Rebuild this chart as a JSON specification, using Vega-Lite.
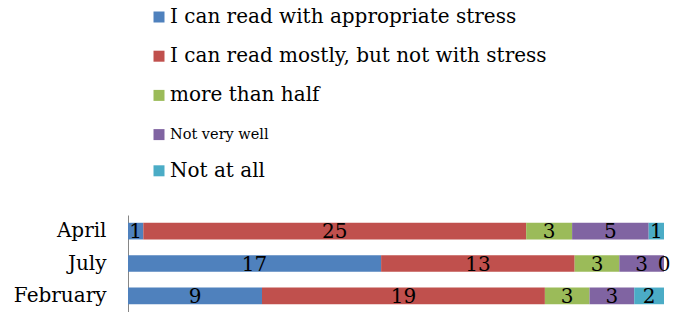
{
  "$schema": "https://vega.github.io/schema/vega-lite/v6.json",
  "width": 536,
  "height": 97,
  "autosize": {"type": "none"},
  "padding": {"left": 128, "top": 215, "right": 19, "bottom": 0},
  "background": "white",
  "config": {"view": {"stroke": null}, "font": "DejaVu Serif"},
  "data": {
    "values": [
      {"month": "April", "k": 1, "answer": "I can read with appropriate stress", "n": 1},
      {"month": "April", "k": 2, "answer": "I can read mostly, but not with stress", "n": 25},
      {"month": "April", "k": 3, "answer": "more than half", "n": 3},
      {"month": "April", "k": 4, "answer": "Not very well", "n": 5},
      {"month": "April", "k": 5, "answer": "Not at all", "n": 1},
      {"month": "July", "k": 1, "answer": "I can read with appropriate stress", "n": 17},
      {"month": "July", "k": 2, "answer": "I can read mostly, but not with stress", "n": 13},
      {"month": "July", "k": 3, "answer": "more than half", "n": 3},
      {"month": "July", "k": 4, "answer": "Not very well", "n": 3},
      {"month": "July", "k": 5, "answer": "Not at all", "n": 0},
      {"month": "February", "k": 1, "answer": "I can read with appropriate stress", "n": 9},
      {"month": "February", "k": 2, "answer": "I can read mostly, but not with stress", "n": 19},
      {"month": "February", "k": 3, "answer": "more than half", "n": 3},
      {"month": "February", "k": 4, "answer": "Not very well", "n": 3},
      {"month": "February", "k": 5, "answer": "Not at all", "n": 2}
    ]
  },
  "transform": [
    {"stack": "n", "groupby": ["month"], "sort": [{"field": "k", "order": "ascending"}], "offset": "normalize", "as": ["s0", "s1"]},
    {"calculate": "(datum.s0 + datum.s1) / 2", "as": "mid"}
  ],
  "encoding": {
    "y": {
      "field": "month",
      "type": "nominal",
      "sort": ["April", "July", "February"],
      "scale": {"paddingInner": 0.485, "paddingOuter": 0.24},
      "axis": {
        "title": null,
        "ticks": false,
        "domain": true,
        "domainColor": "#868686",
        "domainWidth": 1,
        "labelFontSize": 20,
        "labelColor": "#000000",
        "labelPadding": 22,
        "labelFont": "DejaVu Serif"
      }
    }
  },
  "layer": [
    {
      "mark": {"type": "bar"},
      "encoding": {
        "x": {"field": "s0", "type": "quantitative", "scale": {"domain": [0, 1], "nice": false, "zero": true}, "axis": null},
        "x2": {"field": "s1"},
        "color": {
          "field": "answer",
          "type": "nominal",
          "scale": {
            "domain": ["I can read with appropriate stress", "I can read mostly, but not with stress", "more than half", "Not very well", "Not at all"],
            "range": ["#4F81BD", "#C0504D", "#9BBB59", "#8064A2", "#4BACC6"]
          },
          "legend": {
            "title": null,
            "orient": "none",
            "legendX": 21,
            "legendY": -208,
            "padding": 0,
            "symbolType": "square",
            "symbolSize": 121,
            "symbolStrokeWidth": 0,
            "labelFont": "DejaVu Serif",
            "labelFontSize": {"expr": "datum.label == 'Not very well' ? 14.5 : 20"},
            "labelColor": "#000000",
            "labelLimit": 600,
            "labelOffset": 1,
            "rowPadding": 19.2
          }
        }
      }
    },
    {
      "mark": {"type": "text", "fontSize": 20, "color": "#000000", "font": "DejaVu Serif", "baseline": "middle", "dy": 1},
      "encoding": {
        "x": {"field": "mid", "type": "quantitative"},
        "text": {"field": "n", "type": "quantitative"}
      }
    }
  ]
}
